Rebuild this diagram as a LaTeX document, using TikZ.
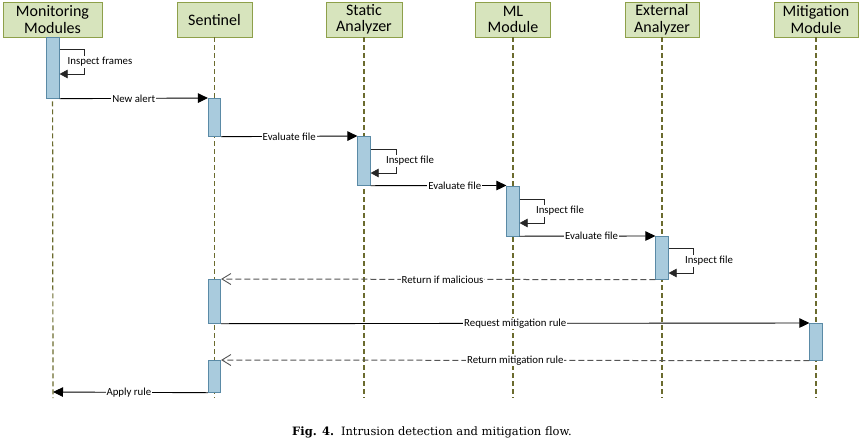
\documentclass[tikz,border=0pt]{standalone}
\usepackage{fontspec}
\setmainfont{Carlito}
\newfontfamily\capfont{DejaVu Serif}
\usetikzlibrary{arrows.meta}
\definecolor{hdrfill}{HTML}{D7E4BD}
\definecolor{hdrdraw}{HTML}{8EA04A}
\definecolor{lifecol}{HTML}{6B6B2E}
\definecolor{actfill}{HTML}{A9CBDD}
\definecolor{actdraw}{HTML}{5A8AA6}
\definecolor{retcol}{HTML}{555555}
\tikzset{
  hdr/.style={draw=hdrdraw, fill=hdrfill, line width=0.8pt, minimum height=35pt, inner sep=1pt,
    align=center, font=\fontsize{16}{16.5}\selectfont},
  lifeline/.style={draw=lifecol, line width=1.2pt, dash pattern=on 5pt off 3pt},
  act/.style={draw=actdraw, fill=actfill, line width=0.7pt, minimum width=12.5pt, inner sep=0pt, anchor=north},
  msg/.style={draw=black, line width=0.9pt, -{Triangle[length=10pt,width=9.5pt]}},
  ret/.style={draw=retcol, line width=1pt, dash pattern=on 6pt off 3pt, -{Straight Barb[length=9pt,width=11pt,line width=0.9pt]}},
  self/.style={draw=black!85, line width=0.7pt, -{Triangle[length=8pt,width=8.5pt]}},
  lbl/.style={fill=white, inner sep=1pt, font=\fontsize{10.8}{12}\selectfont},
}
\begin{document}
\begin{tikzpicture}[x=1pt,y=-1pt]
\useasboundingbox (0,0) rectangle (861,440);
% headers
\node[hdr, minimum width=99pt] (h1) at (52.5,19.5) {Monitoring\\Modules};
\node[hdr, minimum width=75pt] (h2) at (214.5,19.5) {Sentinel};
\node[hdr, minimum width=76pt] (h3) at (364,19.5) {Static\\Analyzer};
\node[hdr, minimum width=75pt] (h4) at (513,19.5) {ML\\Module};
\node[hdr, minimum width=74pt] (h5) at (662,19.5) {External\\Analyzer};
\node[hdr, minimum width=84pt] (h6) at (816,19.5) {Mitigation\\Module};
% lifeline ends
\coordinate (e1) at (53,398);
\coordinate (e2) at (214.5,398);
\coordinate (e3) at (364,398);
\coordinate (e4) at (513,398);
\coordinate (e5) at (662,398);
\coordinate (e6) at (816,398);
\foreach \i in {1,...,6} \draw[lifeline] (h\i.south) -- (e\i);
% activations
\node[act, minimum height=61pt] (a1) at (53,37) {};
\node[act, minimum height=38pt] (s1) at (214.5,98) {};
\node[act, minimum height=49pt] (st) at (364,136) {};
\node[act, minimum height=50pt] (ml) at (513,185.5) {};
\node[act, minimum height=43pt] (ex) at (662,236) {};
\node[act, minimum height=44pt] (s2) at (214.5,279) {};
\node[act, minimum height=37pt] (mi) at (816,323) {};
\node[act, minimum height=32pt] (s3) at (214.5,360) {};
% self messages
\coordinate (l1a) at (84,49);  \coordinate (l1b) at (84,74);
\draw[self] (a1.east |- l1a) -- (l1a) -- (l1b) -- (a1.east |- l1b);
\node[lbl] (t1) at (100,62) {Inspect frames};
\coordinate (l2a) at (396,149); \coordinate (l2b) at (396,173);
\draw[self] (st.east |- l2a) -- (l2a) -- (l2b) -- (st.east |- l2b);
\node[lbl] (t2) at (410,161) {Inspect file};
\coordinate (l3a) at (544,199); \coordinate (l3b) at (544,223);
\draw[self] (ml.east |- l3a) -- (l3a) -- (l3b) -- (ml.east |- l3b);
\node[lbl] (t3) at (560,211) {Inspect file};
\coordinate (l4a) at (693,248); \coordinate (l4b) at (693,273);
\draw[self] (ex.east |- l4a) -- (l4a) -- (l4b) -- (ex.east |- l4b);
\node[lbl] (t4) at (709,261) {Inspect file};
% messages
\draw[msg] (a1.south east) -- node[lbl, pos=0.5] {New alert} (s1.north west);
\draw[msg] (s1.south east) -- node[lbl, pos=0.5] {Evaluate file} (st.north west);
\draw[msg] (st.south east) -- node[lbl, pos=0.62] {Evaluate file} (ml.north west);
\draw[msg] (ml.south east) -- node[lbl, pos=0.53] {Evaluate file} (ex.north west);
\draw[ret] (ex.south west) -- node[lbl, pos=0.49] {Return if malicious} (s2.north east);
\draw[msg] (s2.south east) -- node[lbl, pos=0.5] {Request mitigation rule} (mi.north west);
\draw[ret] (mi.south west) -- node[lbl, pos=0.5] {Return mitigation rule} (s3.north east);
\coordinate (ar) at (53,392);
\draw[msg] (s3.south west) -- node[lbl, pos=0.51] {Apply rule} (ar);
% caption
\node[font=\capfont\fontsize{11.5}{13}\selectfont, inner sep=0pt] (cap) at (432,432) {\textbf{Fig. 4.}\hspace{0.6em}Intrusion detection and mitigation flow.};
\end{tikzpicture}
\end{document}
